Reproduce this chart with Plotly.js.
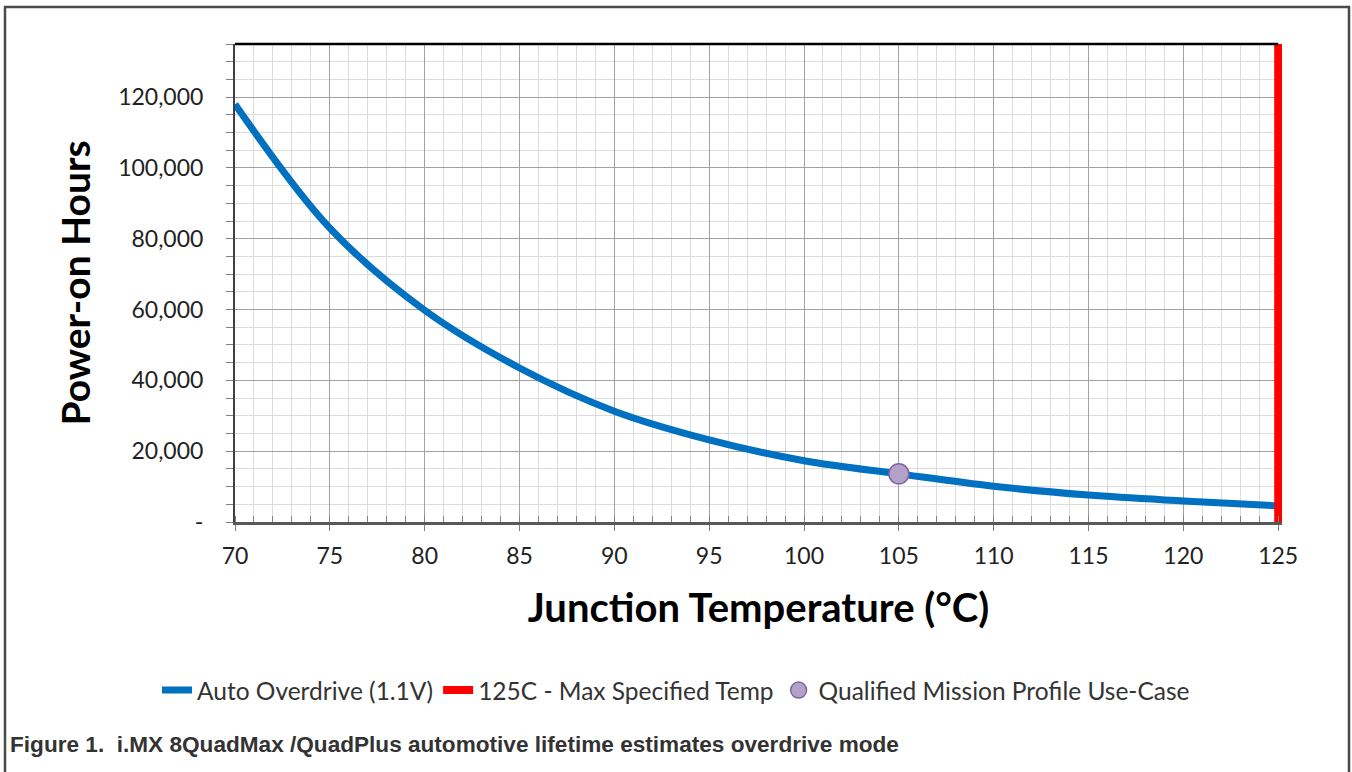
<!DOCTYPE html>
<html>
<head>
<meta charset="utf-8">
<script src="https://cdn.plot.ly/plotly-3.0.1.min.js"></script>
<style>
html,body{margin:0;padding:0;background:#fff;}
#chart{width:1352px;height:772px;}
</style>
</head>
<body>
<div id="chart"></div>
<script>
// Data
const temps = [70, 75, 80, 85, 90, 95, 100, 105, 110, 115, 120, 125];
const hours = [118000, 83000, 59800, 43500, 31300, 23200, 17300, 13600, 10100, 7600, 5950, 4550];
const maxTempX = [125, 125];
const maxTempY = [0, 135000];
const missionX = [105];
const missionY = [13600];
const yTickVals = [0, 20000, 40000, 60000, 80000, 100000, 120000];
const yTickText = ["-", "20,000", "40,000", "60,000", "80,000", "100,000", "120,000"];
const xTickVals = [70, 75, 80, 85, 90, 95, 100, 105, 110, 115, 120, 125];

const FONT = "Lato, 'Open Sans', sans-serif";

const traces = [
  {
    x: temps, y: hours, type: "scatter", mode: "lines",
    name: "Auto Overdrive (1.1V)",
    line: {color: "#0070C0", width: 7, shape: "spline", smoothing: 1}
  },
  {
    x: maxTempX, y: maxTempY, type: "scatter", mode: "lines",
    name: "125C - Max Specified Temp",
    line: {color: "#FF0000", width: 8}
  },
  {
    x: missionX, y: missionY, type: "scatter", mode: "markers",
    name: "Qualified Mission Profile Use-Case",
    marker: {color: "#B3A2C7", size: 20, line: {color: "#8064A2", width: 1.5}}
  }
];

const layout = {
  width: 1352, height: 772,
  paper_bgcolor: "#ffffff", plot_bgcolor: "#ffffff",
  margin: {l: 235, r: 70, t: 44, b: 250},
  font: {family: FONT, color: "#222222", size: 22},
  showlegend: true,
  legend: {
    orientation: "h", xref: "container", yref: "container",
    x: 0.5, xanchor: "center", y: 0.106, yanchor: "middle",
    font: {family: FONT, size: 24.5, color: "#333333"},
    itemwidth: 30, bgcolor: "rgba(0,0,0,0)"
  },
  xaxis: {
    range: [70, 125.2], tickvals: xTickVals, ticktext: xTickVals.map(String),
    showgrid: true, gridcolor: "#a0a0a0", gridwidth: 1,
    showline: true, linecolor: "#595959", linewidth: 2.5,
    ticks: "outside", ticklen: 6, tickcolor: "#808080", tickwidth: 1,
    ticklabelstandoff: 6,
    tickfont: {family: FONT, size: 23, color: "#222222"},
    minor: {dtick: 1, showgrid: true, gridcolor: "#dcdcdc", gridwidth: 1, ticks: "inside", ticklen: 6, tickcolor: "#808080"},
    zeroline: false, fixedrange: true,
    title: {text: "Junction Temperature (°C)", standoff: 26,
            font: {family: FONT, size: 40, color: "#000000", weight: "bold"}}
  },
  yaxis: {
    range: [0, 135000], tickvals: yTickVals, ticktext: yTickText,
    showgrid: true, gridcolor: "#a0a0a0", gridwidth: 1,
    showline: true, linecolor: "#404040", linewidth: 2,
    ticks: "outside", ticklen: 7, tickcolor: "#808080", tickwidth: 1,
    ticklabelstandoff: 18,
    tickfont: {family: FONT, size: 23, color: "#222222"},
    minor: {dtick: 5000, tick0: 0, showgrid: true, gridcolor: "#dcdcdc", gridwidth: 1, ticks: "outside", ticklen: 7, tickcolor: "#808080"},
    zeroline: false, fixedrange: true,
    title: {text: "Power-on Hours", standoff: 15,
            font: {family: FONT, size: 39, color: "#000000", weight: "bold"}}
  },
  shapes: [
    {type: "line", xref: "paper", yref: "paper", x0: 0, x1: (125 - 70) / 55.2, y0: 1, y1: 1,
     line: {color: "#000000", width: 2.5}},
    {type: "rect", xref: "paper", yref: "paper",
     x0: (5 - 235) / 1047, x1: (1349 - 235) / 1047,
     y0: (522 - 800) / 478, y1: (522 - 7) / 478,
     line: {color: "#4a4a4a", width: 2.5}, fillcolor: "rgba(0,0,0,0)"}
  ],
  annotations: [
    {xref: "paper", yref: "paper", x: (8 - 235) / 1047, y: (522 - 744) / 478,
     xanchor: "left", yanchor: "middle", showarrow: false,
     text: "Figure 1.  i.MX 8QuadMax /QuadPlus automotive lifetime estimates overdrive mode",
     font: {family: "'Liberation Sans', Arial, sans-serif", size: 22.6, color: "#333333", weight: "bold"}}
  ]
};

Plotly.newPlot("chart", traces, layout, {displayModeBar: false, staticPlot: true});
</script>
</body>
</html>
